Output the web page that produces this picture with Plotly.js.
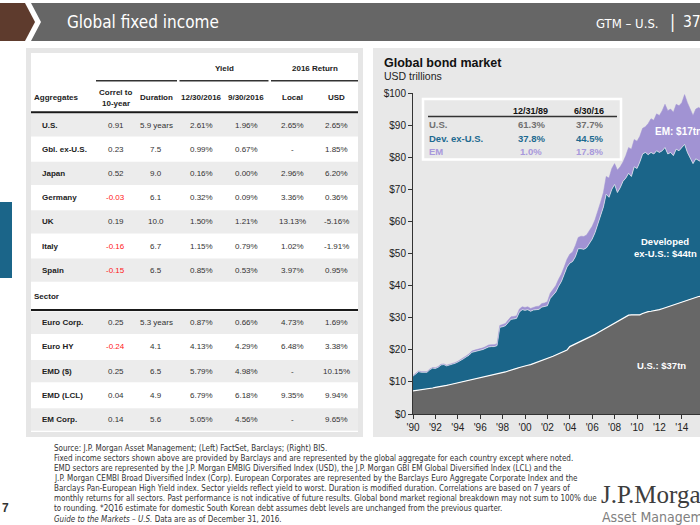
<!DOCTYPE html>
<html><head><meta charset="utf-8">
<script src="https://cdn.plot.ly/plotly-3.0.1.min.js"></script>
<style>html,body{margin:0;padding:0;overflow:hidden;background:#fff}#chart{width:700px;height:525px}</style>
</head><body><div id="chart"></div><script>
// ---------- Data: Global bond market (USD trillions, stacked) ----------
const quarters = [1990.00,1990.25,1990.50,1990.75,1991.00,1991.25,1991.50,1991.75,1992.00,1992.25,1992.50,1992.75,1993.00,1993.25,1993.50,1993.75,1994.00,1994.25,1994.50,1994.75,1995.00,1995.25,1995.50,1995.75,1996.00,1996.25,1996.50,1996.75,1997.00,1997.25,1997.50,1997.75,1998.00,1998.25,1998.50,1998.75,1999.00,1999.25,1999.50,1999.75,2000.00,2000.25,2000.50,2000.75,2001.00,2001.25,2001.50,2001.75,2002.00,2002.25,2002.50,2002.75,2003.00,2003.25,2003.50,2003.75,2004.00,2004.25,2004.50,2004.75,2005.00,2005.25,2005.50,2005.75,2006.00,2006.25,2006.50,2006.75,2007.00,2007.25,2007.50,2007.75,2008.00,2008.25,2008.50,2008.75,2009.00,2009.25,2009.50,2009.75,2010.00,2010.25,2010.50,2010.75,2011.00,2011.25,2011.50,2011.75,2012.00,2012.25,2012.50,2012.75,2013.00,2013.25,2013.50,2013.75,2014.00,2014.25,2014.50,2014.75,2015.00,2015.25,2015.50,2015.75,2016.00,2016.25,2016.50];
const usBonds = [7.2,7.3,7.5,7.6,7.7,7.8,8.0,8.1,8.3,8.4,8.5,8.7,8.9,9.1,9.3,9.5,9.7,9.8,10.0,10.2,10.4,10.5,10.7,10.9,11.1,11.3,11.5,11.7,11.9,12.1,12.3,12.5,12.8,13.1,13.4,13.6,13.9,14.2,14.5,14.8,15.0,15.2,15.4,15.7,16.0,16.3,16.6,16.9,17.3,17.6,18.0,18.4,18.8,19.1,19.5,19.9,21.0,21.4,21.9,22.3,22.7,23.1,23.5,23.9,24.3,24.8,25.3,25.8,26.4,26.9,27.4,27.9,28.5,29.0,29.4,29.9,30.4,30.8,30.9,30.9,30.7,30.9,31.3,31.7,31.9,32.0,32.1,32.3,32.5,32.8,33.1,33.4,33.7,34.0,34.2,34.5,34.9,35.2,35.5,35.8,36.0,36.3,36.6,36.7,36.8,36.9,37.0];
const devExUsBonds = [4.6,5.2,5.7,5.4,5.2,5.2,5.8,6.2,5.9,6.2,6.8,6.7,6.1,6.1,6.2,6.3,6.5,6.8,7.2,7.6,7.9,8.7,8.7,8.7,8.8,8.8,9.0,9.2,9.1,8.9,9.0,14.5,14.4,14.4,15.1,15.9,15.7,15.6,17.3,17.7,17.3,17.3,16.6,16.7,16.5,16.3,16.7,16.6,16.4,18.4,19.0,19.6,21.0,22.2,24.0,25.9,26.0,26.1,27.1,29.2,28.8,28.2,28.3,29.1,30.2,31.7,33.7,36.2,38.1,41.6,40.1,42.1,43.0,40.0,41.1,42.6,43.1,44.2,43.1,46.1,45.8,47.6,49.7,49.8,48.9,49.5,48.9,49.7,49.0,49.2,49.9,47.6,47.8,46.5,48.3,47.5,48.1,48.8,46.0,43.7,42.0,43.2,42.4,41.8,43.2,44.1,44.0];
const emBonds = [0.2,0.2,0.2,0.2,0.2,0.2,0.2,0.2,0.2,0.2,0.2,0.2,0.2,0.2,0.2,0.2,0.2,0.3,0.3,0.3,0.4,0.4,0.5,0.5,0.5,0.5,0.5,0.6,0.6,0.6,0.6,0.6,0.7,0.7,0.8,0.8,0.8,0.8,0.9,0.9,0.9,0.9,0.9,0.9,1.0,1.0,1.1,1.1,1.3,1.6,1.8,2.0,2.2,2.3,2.3,2.4,2.8,3.0,3.5,3.5,3.9,4.0,4.0,4.0,4.0,4.0,4.0,4.0,4.5,5.5,6.0,6.5,6.5,7.0,6.5,6.0,7.0,8.0,8.5,8.5,8.5,8.0,8.0,8.0,9.7,10.5,10.5,11.5,11.5,12.5,13.5,13.5,13.5,13.5,14.0,14.0,14.0,15.5,15.5,15.5,15.0,15.5,16.5,16.5,17.0,17.0,17.0];
const xTickVals = [1990,1992,1994,1996,1998,2000,2002,2004,2006,2008,2010,2012,2014,2016];
const xTickText = ["'90","'92","'94","'96","'98","'00","'02","'04","'06","'08","'10","'12","'14","'16"];
const yTickVals = [0,10,20,30,40,50,60,70,80,90,100];
const yTickText = ["$0","$10","$20","$30","$40","$50","$60","$70","$80","$90","$100"];

// inset share table
const insetRegions = ["U.S.","Dev. ex-U.S.","EM"];
const insetDates = ["12/31/89","6/30/16"];
const share1989 = ["61.3%","37.8%","1.0%"];
const share2016 = ["37.7%","44.5%","17.8%"];

// ---------- Data: left table ----------
const aggNames = ["U.S.","Gbl. ex-U.S.","Japan","Germany","UK","Italy","Spain"];
const aggCorrel = [0.91,0.23,0.52,-0.03,0.19,-0.16,-0.15];
const aggDuration = ["5.9 years","7.5","9.0","6.1","10.0","6.7","6.5"];
const aggYield1230 = ["2.61%","0.99%","0.16%","0.32%","1.50%","1.15%","0.85%"];
const aggYield0930 = ["1.96%","0.67%","0.00%","0.09%","1.21%","0.79%","0.53%"];
const aggLocal = ["2.65%","-","2.96%","3.36%","13.13%","1.02%","3.97%"];
const aggUSD = ["2.65%","1.85%","6.20%","0.36%","-5.16%","-1.91%","0.95%"];

const secNames = ["Euro Corp.","Euro HY","EMD ($)","EMD (LCL)","EM Corp."];
const secCorrel = [0.25,-0.24,0.25,0.04,0.14];
const secDuration = ["5.3 years","4.1","6.5","4.9","5.6"];
const secYield1230 = ["0.87%","4.13%","5.79%","6.79%","5.05%"];
const secYield0930 = ["0.66%","4.29%","4.98%","6.18%","4.56%"];
const secLocal = ["4.73%","6.48%","-","9.35%","-"];
const secUSD = ["1.69%","3.38%","10.15%","9.94%","9.65%"];

const footnotes = [
 "Source: J.P. Morgan Asset Management; (Left) FactSet, Barclays; (Right) BIS.",
 "Fixed income sectors shown above are provided by Barclays and are represented by the global aggregate for each country except where noted.",
 "EMD sectors are represented by the J.P. Morgan EMBIG Diversified Index (USD), the J.P. Morgan GBI EM Global Diversified Index (LCL) and the",
 "J.P. Morgan CEMBI Broad Diversified Index (Corp). European Corporates are represented by the Barclays Euro Aggregate Corporate Index and the",
 "Barclays Pan-European High Yield index. Sector yields reflect yield to worst. Duration is modified duration. Correlations are based on 7 years of",
 "monthly returns for all sectors. Past performance is not indicative of future results. Global bond market regional breakdown may not sum to 100% due",
 "to rounding. *2Q16 estimate for domestic South Korean debt assumes debt levels are unchanged from the previous quarter.",
 "<i>Guide to the Markets – U.S.</i> Data are as of December 31, 2016."
];

// ---------- helpers (pixel -> paper) ----------
const W = 700, H = 525;
const X = p => p / W;
const Y = p => 1 - p / H;
const SANS = "Liberation Sans, Arial, sans-serif";
const NARROW = "DejaVu Sans Condensed, sans-serif";
const ann = [];
function T(x, y, text, o) {
  o = o || {};
  ann.push({xref:'paper', yref:'paper', x:X(x), y:Y(y), text:text, showarrow:false,
    xanchor:o.a || 'center', yanchor:'middle', borderpad:0,
    font:{family:o.f || SANS, size:o.s || 8, color:o.c || '#222', weight:o.w || 'normal'}});
}
const shapes = [];
function R(x0, y0, x1, y1, fill, line) {
  shapes.push({type:'rect', xref:'paper', yref:'paper', x0:X(x0), x1:X(x1), y0:Y(y1), y1:Y(y0),
    fillcolor:fill, line: line || {width:0}, layer:'below'});
}
function L(x0, y0, x1, y1, color, width) {
  shapes.push({type:'line', xref:'paper', yref:'paper', x0:X(x0), x1:X(x1), y0:Y(y0), y1:Y(y1),
    line:{color:color, width:width}, layer:'above'});
}
function P(pts, fill) {
  const d = 'M' + pts.map(p => X(p[0]) + ',' + Y(p[1])).join('L') + 'Z';
  shapes.push({type:'path', xref:'paper', yref:'paper', path:d, fillcolor:fill, line:{width:0}, layer:'below'});
}

// ---------- header ----------
P([[0,3],[25,3],[35,22],[25,41],[0,41]], '#5e3b2d');
P([[31,3],[700,3],[700,41],[31,41],[41,22]], '#666666');
T(66, 22, 'Global fixed income', {a:'left', f:NARROW, s:17, c:'#ffffff'});
T(660, 23, 'GTM – U.S.', {a:'right', f:NARROW, s:13, c:'#ffffff'});
T(672, 22, '|', {a:'center', f:NARROW, s:17, c:'#ffffff'});
T(682, 22, '37', {a:'left', f:NARROW, s:15.5, c:'#ffffff'});

// side tab + page number
R(0, 202, 12, 278, '#1b6589');
T(1, 508, '7', {a:'left', s:12, w:'bold', c:'#333'});

// ---------- left table panel ----------
R(26, 48, 363, 437, '#e6e6e6');
R(31, 53, 358, 432, '#ffffff');
const colX = [115.7, 156, 201.7, 246, 292.7, 336.7];
const aggY = [125, 149.2, 173.4, 197.6, 221.8, 246, 270.2];
const secY = [322.7, 346.9, 371.1, 395.3, 419.5];
[0,2,4,6].forEach(i => R(31, aggY[i]-11.6, 358, aggY[i]+11.6, '#ececec'));
[0,2,4].forEach(i => R(31, secY[i]-11.2, 358, secY[i]+11.2, '#ececec'));
T(224, 68.5, 'Yield', {s:8, w:'bold', c:'#222'});
T(315, 68.5, '2016 Return', {s:8, w:'bold', c:'#222'});
L(96, 80.7, 177, 80.7, '#333', 1.5);
L(179.5, 80.7, 268.5, 80.7, '#333', 1.5);
L(271, 80.7, 358, 80.7, '#333', 1.5);
T(33, 97.5, 'Aggregates', {a:'left', s:8, w:'bold'});
T(colX[0], 92.5, 'Correl to', {s:8, w:'bold'});
T(colX[0], 103, '10-year', {s:8, w:'bold'});
T(colX[1], 97.5, 'Duration', {s:8, w:'bold'});
T(colX[2], 97.5, '12/30/2016', {s:8, w:'bold'});
T(colX[3], 97.5, '9/30/2016', {s:8, w:'bold'});
T(colX[4], 97.5, 'Local', {s:8, w:'bold'});
T(colX[5], 97.5, 'USD', {s:8, w:'bold'});
L(31, 112.3, 358, 112.3, '#1a1a1a', 2);
function rows(names, ys, cor, dur, y1, y2, loc, usd) {
  names.forEach((n, i) => {
    const y = ys[i];
    T(40.5, y, n, {a:'left', s:8, w:'bold'});
    T(colX[0], y, cor[i].toFixed(2), {s:8, c: cor[i] < 0 ? '#ff2020' : '#333'});
    T(colX[1], y, dur[i], {s:8, c:'#333'});
    T(colX[2], y, y1[i], {s:8, c:'#333'});
    T(colX[3], y, y2[i], {s:8, c:'#333'});
    T(colX[4], y, loc[i], {s:8, c:'#333'});
    T(colX[5], y, usd[i], {s:8, c:'#333'});
  });
}
rows(aggNames, aggY, aggCorrel, aggDuration, aggYield1230, aggYield0930, aggLocal, aggUSD);
T(33, 296.7, 'Sector', {a:'left', s:8, w:'bold'});
L(31, 310, 358, 310, '#1a1a1a', 2);
rows(secNames, secY, secCorrel, secDuration, secYield1230, secYield0930, secLocal, secUSD);

// ---------- right chart panel ----------
R(373, 48, 700, 437, '#e8e8e8');
T(383, 62.7, 'Global bond market', {a:'left', s:12.5, w:'bold', c:'#111'});
T(383, 76.5, 'USD trillions', {a:'left', s:10.5, c:'#222'});
// inset
shapes.push({type:'rect', xref:'paper', yref:'paper', x0:X(423), x1:X(621), y0:Y(159.5), y1:Y(99),
  fillcolor:'rgba(0,0,0,0)', line:{color:'#ffffff', width:2.5}, layer:'above'});
L(428, 116.5, 617, 116.5, '#333', 1.5);
T(530, 110.5, insetDates[0], {s:9, w:'bold', c:'#111'});
T(589, 110.5, insetDates[1], {s:9, w:'bold', c:'#111'});
const insetColors = ['#707070', '#1d6a90', '#a898dc'];
const insetY = [124.7, 138.3, 151.8];
insetRegions.forEach((r, i) => {
  T(428, insetY[i], r, {a:'left', s:9.5, w:'bold', c:insetColors[i]});
  T(531, insetY[i], share1989[i], {s:9.5, w:'bold', c:insetColors[i]});
  T(589, insetY[i], share2016[i], {s:9.5, w:'bold', c:insetColors[i]});
});
// in-chart labels
T(654, 131.7, 'EM: $17tn*', {a:'left', s:10, w:'bold', c:'#ffffff'});
T(665, 241.7, 'Developed', {s:9.5, w:'bold', c:'#ffffff'});
T(665, 253.5, 'ex-U.S.: $44tn', {s:9.5, w:'bold', c:'#ffffff'});
T(661, 365, 'U.S.: $37tn', {s:9.5, w:'bold', c:'#ffffff'});

// ---------- footnotes & logo ----------
footnotes.forEach((t, i) => T(53, 448 + i * 10.15, t, {a:'left', f:NARROW, s:8, c:'#333'}));
T(600, 494, 'J.P.Morgan', {a:'left', f:'Liberation Serif, Times New Roman, serif', s:25, c:'#3d3d3d'});
T(601, 517, 'Asset Management', {a:'left', f:NARROW, s:14, c:'#808080'});

// ---------- traces ----------
const traces = [
  {x:quarters, y:usBonds, type:'scatter', mode:'lines', stackgroup:'bonds', name:'U.S.',
   fillcolor:'#676767', line:{color:'#ffffff', width:1.2}, hoverinfo:'skip'},
  {x:quarters, y:devExUsBonds, type:'scatter', mode:'lines', stackgroup:'bonds', name:'Dev. ex-U.S.',
   fillcolor:'#1b6589', line:{color:'#d8e2ea', width:0.8}, hoverinfo:'skip'},
  {x:quarters, y:emBonds, type:'scatter', mode:'lines', stackgroup:'bonds', name:'EM',
   fillcolor:'#a193d3', line:{color:'#a193d3', width:0.5}, hoverinfo:'skip'}
];

const layout = {
  width: W, height: H,
  margin: {l:0, r:0, t:0, b:0, pad:0},
  paper_bgcolor: '#ffffff', plot_bgcolor: 'rgba(0,0,0,0)',
  showlegend: false,
  font: {family: SANS, color: '#222'},
  xaxis: {domain:[X(413), 1], range:[1990, 2015.625], tickvals:xTickVals, ticktext:xTickText,
    ticks:'outside', ticklen:4, tickcolor:'#333', tickwidth:1, showline:true, linecolor:'#333', linewidth:1,
    showgrid:false, zeroline:false, tickfont:{size:10, color:'#222', family:SANS}},
  yaxis: {domain:[Y(414), Y(93)], range:[0, 100], tickvals:yTickVals, ticktext:yTickText,
    ticks:'outside', ticklen:4, tickcolor:'#333', tickwidth:1, showline:true, linecolor:'#333', linewidth:1,
    showgrid:false, zeroline:false, tickfont:{size:10, color:'#222', family:SANS}},
  shapes: shapes,
  annotations: ann
};
Plotly.newPlot('chart', traces, layout, {displayModeBar:false, staticPlot:true});
</script></body></html>
